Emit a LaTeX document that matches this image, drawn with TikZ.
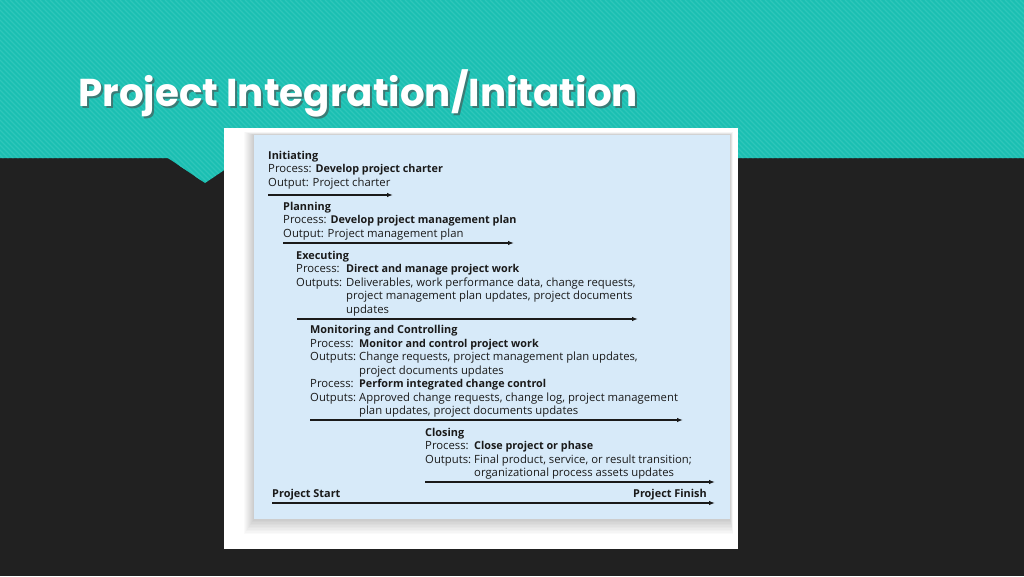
\documentclass[tikz,border=0pt]{standalone}
\usepackage{fontspec}
\newfontfamily\titlefont{Poppins}
\newfontfamily\bodyfont{Open Sans}
\usetikzlibrary{arrows.meta,positioning}
\definecolor{teal_c}{HTML}{1BBFB2}
\definecolor{stripe_c}{HTML}{2FC6BA}
\definecolor{dark_c}{HTML}{212121}
\definecolor{panel_c}{HTML}{D7EAF9}
\definecolor{ink_c}{HTML}{1A1A1A}
\newcommand\procname[1]{{\fontsize{10.8}{13.5}\selectfont\bfseries #1}}
\begin{document}
\begin{tikzpicture}[
			x=1pt, y=-1pt,
			txt/.style = {anchor=base west, inner sep=0pt, text=ink_c, align=left,
				font=\bodyfont\fontsize{11.3}{13.5}\selectfont},
			head/.style = {txt, font=\bodyfont\bfseries\fontsize{10.9}{13.5}\selectfont},
			flow/.style = {draw=ink_c, line width=1.3pt, -{Latex[length=6pt,width=4.5pt]}},
			]
			\useasboundingbox (0,0) rectangle (1024,576);
			% background
			\fill[dark_c] (0,0) rectangle (1024,576);
			\begin{scope}
				\clip (0,0) -- (1024,0) -- (1024,158) -- (242,158) -- (205,183) -- (168,158) -- (0,158) -- cycle;
				\fill[teal_c] (0,0) rectangle (1024,190);
				\foreach \s in {-200,-195,...,1030}
					\draw[stripe_c, line width=1.2pt] (\s,0) -- (\s+190,190);
			\end{scope}
			% title
			\node[anchor=base west, inner sep=0pt, text=black!70, opacity=0.6,
				font=\titlefont\bfseries\fontsize{38.8}{46}\selectfont] (title_s) at (80,108) {Project Integration/Initation};
			\node[anchor=base west, inner sep=0pt, text=white,
				font=\titlefont\bfseries\fontsize{38.8}{46}\selectfont] (title) at (78,106) {Project Integration/Initation};
			% card and panel
			\fill[white] (224,128) rectangle (738,549);
			\foreach \i in {1,...,10}
				\fill[black, opacity=0.018] (254-\i,135-\i*0.3) rectangle (730+\i*0.3,519+\i*1.5);
			\fill[panel_c] (254,135) rectangle (730,519);
			% initiating
			\node[head] (init) at (268,159) {Initiating};
			\node[txt] (init_p) at (268,172.5) {Process: \procname{Develop project charter}};
			\node[txt] (init_o) at (268,186) {Output: Project charter};
			\coordinate (init_s) at (268,195);
			\coordinate (init_e) at (393,195);
			% planning
			\node[head] (plan) at (283,210) {Planning};
			\node[txt] (plan_p) at (283,223.5) {Process: \procname{Develop project management plan}};
			\node[txt] (plan_o) at (283,237) {Output: Project management plan};
			\coordinate (plan_s) at (283,243);
			\coordinate (plan_e) at (514,243);
			% executing (multi-line nodes sit on their last line)
			\node[head] (exec) at (296,259) {Executing};
			\node[txt] (exec_pl) at (296,272.5) {Process:};
			\node[txt] (exec_p) at (346,272.5) {\procname{Direct and manage project work}};
			\node[txt] (exec_ol) at (296,286) {Outputs:};
			\node[txt] (exec_o) at (346,313) {Deliverables, work performance data, change requests,\\project management plan updates, project documents\\updates};
			\coordinate (exec_s) at (297,319);
			\coordinate (exec_e) at (638,319);
			% monitoring and controlling
			\node[head] (mon) at (310,333) {Monitoring and Controlling};
			\node[txt] (mon_pl1) at (310,347) {Process:};
			\node[txt] (mon_p1) at (359,347) {\procname{Monitor and control project work}};
			\node[txt] (mon_ol1) at (310,360.5) {Outputs:};
			\node[txt] (mon_o1) at (359,374) {Change requests, project management plan updates,\\project documents updates};
			\node[txt] (mon_pl2) at (310,387.5) {Process:};
			\node[txt] (mon_p2) at (359,387.5) {\procname{Perform integrated change control}};
			\node[txt] (mon_ol2) at (310,401) {Outputs:};
			\node[txt] (mon_o2) at (359,414.5) {Approved change requests, change log, project management\\plan updates, project documents updates};
			\coordinate (mon_s) at (310,420);
			\coordinate (mon_e) at (683,420);
			% closing
			\node[head] (close) at (425,436) {Closing};
			\node[txt] (close_pl) at (425,449.5) {Process:};
			\node[txt] (close_p) at (474,449.5) {\procname{Close project or phase}};
			\node[txt] (close_ol) at (425,463) {Outputs:};
			\node[txt] (close_o) at (474,476.5) {Final product, service, or result transition;\\organizational process assets updates};
			\coordinate (close_s) at (425,482);
			\coordinate (close_e) at (715,482);
			% start and finish
			\node[head] (start) at (272,497.5) {Project Start};
			\node[head, anchor=base east] (finish) at (707,497.5) {Project Finish};
			\coordinate (proj_s) at (272,503);
			\coordinate (proj_e) at (715,503);
			% arrows
			\draw[flow] (init_s) -- (init_e);
			\draw[flow] (plan_s) -- (plan_e);
			\draw[flow] (exec_s) -- (exec_e);
			\draw[flow] (mon_s) -- (mon_e);
			\draw[flow] (close_s) -- (close_e);
			\draw[flow] (proj_s) -- (proj_e);
		\end{tikzpicture}
\end{document}
